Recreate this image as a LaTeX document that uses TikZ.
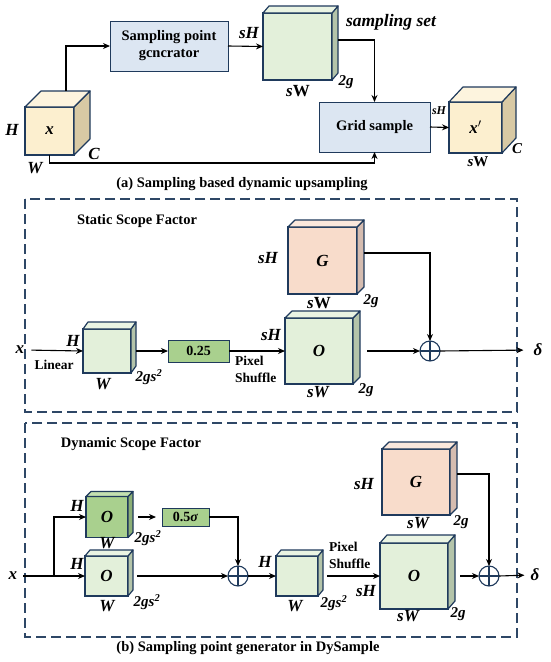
\documentclass[tikz,border=0pt]{standalone}
\usepackage{fontspec}
\setmainfont{Liberation Serif}
\usetikzlibrary{arrows.meta,calc}
\definecolor{navy}{HTML}{1F3A5C}
\definecolor{dashc}{HTML}{2E4766}
\definecolor{blueF}{HTML}{DCE6F2}
\definecolor{yelF}{HTML}{FCEFCF}
\definecolor{yelS}{HTML}{D8C9A4}
\definecolor{yelT}{HTML}{FDF4DE}
\definecolor{grnF}{HTML}{E3F0DA}
\definecolor{grnS}{HTML}{B4C4AA}
\definecolor{grnT}{HTML}{EAF4E3}
\definecolor{dgrF}{HTML}{A9D08E}
\definecolor{dgrS}{HTML}{8CAF76}
\definecolor{dgrT}{HTML}{C4E0B0}
\definecolor{peaF}{HTML}{F8DCCB}
\definecolor{peaS}{HTML}{D5BCB0}
\definecolor{peaT}{HTML}{FBE8DC}
\tikzset{
  lbl/.style={font=\fontsize{17}{17}\selectfont\bfseries\itshape, inner sep=0pt},
  slbl/.style={font=\fontsize{15}{15}\selectfont\bfseries\itshape, inner sep=0pt},
  tlbl/.style={font=\fontsize{12}{12}\selectfont\bfseries\itshape, inner sep=0pt},
  txt/.style={font=\fontsize{14.5}{17}\selectfont\bfseries, inner sep=0pt, align=center},
  stxt/.style={font=\fontsize{13.5}{16}\selectfont\bfseries, inner sep=0pt, align=left},
  arr/.style={-{Stealth[length=7pt,width=6pt]}, line width=1.1pt},
  ln/.style={line width=1.1pt},
  cubeface/.style={draw=navy, line width=1.2pt, inner sep=0pt, outer sep=0pt,
    font=\fontsize{17}{17}\selectfont\bfseries\itshape},
  cubeedge/.style={draw=navy, line width=1.2pt, line join=round},
  procbox/.style={draw=navy, fill=blueF, line width=1pt, inner sep=0pt, outer sep=0pt,
    font=\fontsize{14.5}{17}\selectfont\bfseries, align=center},
  gbox/.style={draw=navy, fill=dgrF, line width=1pt, inner sep=0pt, outer sep=0pt,
    font=\fontsize{14}{14}\selectfont\bfseries},
  frame/.style={draw=dashc, line width=1.3pt, dash pattern=on 10pt off 5pt},
  oplus/.style={circle, draw=navy, line width=1.1pt, minimum size=20pt, inner sep=0pt, outer sep=0pt},
}
% name, x1, y1, x2, y2, dx, dy, colour prefix, text
\newcommand{\mkcube}[9]{%
  \pgfmathsetmacro\cubeWd{#4-#2}\pgfmathsetmacro\cubeHt{#5-#3}%
  \node[cubeface, fill=#8F, minimum width=\cubeWd pt, minimum height=\cubeHt pt] (#1) at ({(#2+#4)/2},{(#3+#5)/2}) {#9};
  \filldraw[cubeedge, fill=#8S] (#1.north east) -- ([shift={(#6pt,#7pt)}]#1.north east) -- ([shift={(#6pt,#7pt)}]#1.south east) -- (#1.south east) -- cycle;
  \filldraw[cubeedge, fill=#8T] (#1.north west) -- ([shift={(#6pt,#7pt)}]#1.north west) -- ([shift={(#6pt,#7pt)}]#1.north east) -- (#1.north east) -- cycle;
}
\newcommand{\mkplus}[1]{\draw[navy, line width=1.1pt] (#1.north) -- (#1.south) (#1.west) -- (#1.east);}
\begin{document}
\begin{tikzpicture}[x=1pt,y=-1pt]
\fill[white] (0,0) rectangle (550,662);
\useasboundingbox (0,0) rectangle (550,662);

% ---------------- (a) ----------------
\mkcube{xc}{25}{107}{74}{155}{16}{16}{yel}{x}
\node[lbl] (xH) at (12,130) {H};
\node[lbl] (xC) at (94,154) {C};
\node[lbl] (xW) at (35,168) {W};

\node[procbox, minimum width=118pt, minimum height=50pt] (gen) at (169,46) {Sampling point\\gcncrator};

\mkcube{ss}{263}{13}{332}{80}{6}{7}{grn}{}
\node[lbl] (ssH) at (249,33) {sH};
\node[lbl] (ssW) at (298,91) {s\upshape W};
\node[slbl] (ssg) at (346,82) {2g};
\node[font=\fontsize{17.5}{17.5}\selectfont\bfseries\itshape, inner sep=0pt] (sslab) at (391,22) {sampling set};

\node[procbox, minimum width=111pt, minimum height=50pt] (grid) at (374.5,127) {Grid sample};

\mkcube{xp}{449}{102}{502}{153}{14}{15}{yel}{x$'$}
\node[tlbl] (xpH) at (439,111) {sH};
\node[slbl] (xpC) at (517,149) {C};
\node[slbl] (xpW) at (478,162) {s\upshape W};

\draw[arr] ([xshift=16.5pt,yshift=16pt]xc.north) |- (gen.west);
\draw[arr] (gen.east) -- (ss.west);
\draw[arr] ([xshift=6pt,yshift=6.5pt]ss.east) -| (grid.north);
\draw[arr] (xc.south) -- ++(0,8) -| (grid.south);
\draw[arr] (grid.east) -- (xp.west);

\node[txt] (capa) at (242,184) {(a) Sampling based dynamic upsampling};

% ---------------- static ----------------
\draw[frame] (25,199) rectangle (517,412);
\node[txt] (stt) at (137,221) {Static Scope Factor};

\node[lbl] (x1) at (20,350) {x};
\node[stxt] (lin) at (54,365) {Linear};
\mkcube{c1}{83}{329}{131}{373}{5}{7}{grn}{}
\node[lbl] (c1H) at (73,341) {H};
\node[lbl] (c1W) at (103,384) {W};
\node[slbl] (c1g) at (149,377) {2gs\textsuperscript{2}};
\node[gbox, minimum width=61pt, minimum height=22pt] (b25) at (198.5,351) {0.25};
\node[stxt, anchor=west] (ps1a) at (235,361) {Pixel};
\node[stxt, anchor=west] (ps1b) at (235,378) {Shuffle};
\node[lbl] (o1H) at (271,335) {sH};
\mkcube{o1}{285}{318}{353}{384}{7}{7}{grn}{O}
\node[lbl] (o1W) at (318,392) {sW};
\node[slbl] (o1g) at (366,390) {2g};

\mkcube{g1}{288}{227}{357}{294}{7}{7}{pea}{G}
\node[lbl] (g1H) at (268,258) {sH};
\node[lbl] (g1W) at (319,303) {s\upshape W};
\node[slbl] (g1g) at (371,301) {2g};

\node[oplus] (p1) at (430,351) {};
\mkplus{p1}
\node[lbl] (d1) at (538,350) {δ};

\draw[arr, shorten <=7pt] (x1.east) -- (c1.west);
\draw[arr] ([xshift=5pt]c1.east) -- (b25.west);
\draw[arr] (b25.east) -- (o1.west);
\draw[arr] ([xshift=14pt]o1.east) -- (p1.west);
\draw[arr] ([xshift=7pt,yshift=7.5pt]g1.east) -| (p1.north);
\draw[arr, shorten >=10pt] (p1.east) -- (d1.west);

% ---------------- dynamic ----------------
\draw[frame] (25,423) rectangle (517,637);
\node[txt] (dyt) at (131,444) {Dynamic Scope Factor};

\node[lbl] (x2) at (13,576) {x};
\coordinate (split) at (54,576);
\mkcube{o2}{86}{496.5}{128}{537.5}{5}{5}{dgr}{O}
\node[lbl] (o2H) at (77,506) {H};
\node[lbl] (o2W) at (107,543) {W};
\node[slbl] (o2g) at (148,538) {2gs\textsuperscript{2}};
\node[gbox, minimum width=47pt, minimum height=18pt] (bs) at (185.5,517) {0.5\textit{σ}};

\mkcube{o3}{85}{556}{128}{596}{5}{6}{grn}{O}
\node[lbl] (o3H) at (77,564) {H};
\node[lbl] (o3W) at (107,606) {W};
\node[slbl] (o3g) at (147,602) {2gs\textsuperscript{2}};

\node[oplus] (p2) at (238,576) {};
\mkplus{p2}

\mkcube{c3}{276}{556}{318}{596}{5}{6}{grn}{}
\node[lbl] (c3H) at (265,562) {H};
\node[lbl] (c3W) at (295,606) {W};
\node[slbl] (c3g) at (334,603) {2gs\textsuperscript{2}};
\node[stxt, anchor=west] (ps2a) at (329,547) {Pixel};
\node[stxt, anchor=west] (ps2b) at (329,564) {Shuffle};

\mkcube{g4}{382}{449}{450}{515}{7}{7}{pea}{G}
\node[lbl] (g4H) at (364,484) {sH};
\node[lbl] (g4W) at (418,523) {sW};
\node[slbl] (g4g) at (461,522) {2g};

\mkcube{o4}{380}{543}{448}{609}{7}{8}{grn}{O}
\node[lbl] (o4H) at (366,591) {sH};
\node[lbl] (o4W) at (408,616) {sW};
\node[slbl] (o4g) at (458,614) {2g};

\node[oplus] (p3) at (489,576) {};
\mkplus{p3}
\node[lbl] (d2) at (535,575) {δ};

\draw[ln, shorten <=6pt] (x2.east) -- (split);
\draw[arr] (split) |- (o2.west);
\draw[arr] (split) -- (o3.west);
\draw[arr] ([xshift=10pt]o2.east) -- ([xshift=-6pt]bs.west);
\draw[arr] (bs.east) -| (p2.north);
\draw[arr] ([xshift=9pt]o3.east) -- (p2.west);
\draw[arr] (p2.east) -- (c3.west);
\draw[arr] ([xshift=9pt]c3.east) -- (o4.west);
\draw[arr] ([xshift=7pt,yshift=8pt]g4.east) -| (p3.north);
\draw[arr] ([xshift=12pt]o4.east) -- (p3.west);
\draw[arr, shorten >=6pt] (p3.east) -- (d2.west);

\node[txt] (capb) at (248,648) {(b) Sampling point generator in DySample};
\end{tikzpicture}
\end{document}
